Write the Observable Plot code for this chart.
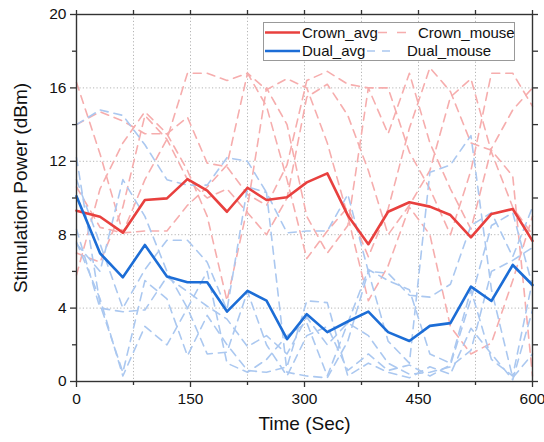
<!DOCTYPE html>
<html><head><meta charset="utf-8">
<script src="https://cdn.jsdelivr.net/npm/d3@7"></script>
<script src="https://cdn.jsdelivr.net/npm/@observablehq/plot@0.6"></script>
<style>
html,body{margin:0;padding:0;background:#fff;}
#chart{width:544px;height:442px;}
</style>
</head><body><div id="chart"></div>
<script>
const times = [0, 31, 61, 90, 119, 146, 172, 198, 225, 250, 277, 303, 330, 357, 384, 410, 438, 465, 492, 519, 546, 574, 600];

const crownAvg = [9.31, 8.98, 8.11, 9.89, 9.98, 11.03, 10.4, 9.25, 10.56, 9.89, 10.04, 10.85, 11.34, 9.05, 7.48, 9.25, 9.77, 9.53, 9.07, 7.86, 9.13, 9.40, 7.66];
const dualAvg  = [10.1, 6.99, 5.68, 7.44, 5.72, 5.41, 5.41, 3.81, 4.94, 4.41, 2.31, 3.67, 2.69, 3.27, 3.81, 2.69, 2.21, 3.03, 3.18, 5.17, 4.39, 6.35, 5.26];

const crownMouse1 = [16.3, 12.4, 8.1, 11.0, 13.2, 16.8, 16.8, 16.4, 16.8, 15.0, 11.0, 6.7, 8.2, 9.5, 6.8, 9.4, 13.8, 17.1, 15.8, 13.0, 12.6, 11.2, 0.3];
const crownMouse2 = [14.0, 14.7, 14.2, 13.5, 13.5, 14.4, 11.9, 11.7, 10.2, 9.6, 11.8, 16.4, 16.9, 16.2, 16.0, 16.0, 12.5, 10.5, 8.0, 11.5, 16.8, 16.8, 15.0];
const crownMouse3 = [10.6, 8.4, 8.1, 8.2, 8.2, 9.6, 10.6, 11.8, 16.8, 15.9, 16.5, 16.0, 13.0, 9.0, 4.4, 6.3, 9.5, 8.0, 3.0, 1.5, 2.1, 5.5, 9.0];
const crownMouse4 = [5.8, 10.5, 13.0, 14.7, 13.5, 11.5, 9.0, 4.4, 9.5, 16.0, 14.0, 9.0, 7.0, 8.5, 16.0, 13.5, 16.8, 13.0, 10.5, 8.3, 12.7, 14.8, 16.0];
const crownMouse5 = [7.0, 6.5, 9.5, 14.5, 13.2, 11.0, 10.0, 10.5, 9.2, 8.0, 10.0, 15.5, 16.2, 14.5, 11.5, 8.0, 9.6, 11.5, 15.5, 16.5, 12.5, 9.5, 8.0];

const dualMouse1 = [14.0, 14.8, 14.5, 12.9, 11.0, 10.7, 10.7, 12.2, 12.0, 10.3, 8.1, 8.2, 8.2, 10.2, 6.0, 5.9, 4.7, 4.6, 5.3, 8.5, 9.2, 6.8, 9.5];
const dualMouse2 = [12.2, 4.2, 0.5, 5.5, 4.5, 1.4, 3.6, 2.0, 0.6, 0.5, 0.8, 4.4, 4.3, 0.3, 1.0, 0.5, 0.2, 0.8, 0.4, 2.9, 1.5, 0.1, 3.9];
const dualMouse3 = [11.0, 7.5, 4.0, 6.1, 7.7, 7.7, 6.5, 3.9, 10.6, 10.3, 0.5, 0.3, 0.2, 2.2, 6.0, 2.2, 1.0, 11.4, 11.8, 13.4, 5.0, 0.2, 1.5];
const dualMouse4 = [8.3, 4.0, 3.8, 3.9, 5.7, 4.9, 4.1, 3.4, 1.9, 2.5, 1.5, 3.5, 2.0, 3.2, 2.5, 1.0, 0.4, 0.5, 0.8, 1.7, 6.0, 6.6, 7.3];
const dualMouse5 = [7.5, 6.0, 11.0, 9.0, 6.0, 4.0, 1.5, 1.6, 4.9, 2.0, 0.3, 2.5, 3.0, 0.6, 1.5, 0.6, 0.9, 0.3, 0.9, 4.5, 8.5, 9.2, 5.2];
const dualMouse6 = [7.6, 4.5, 0.3, 3.0, 2.0, 4.0, 6.0, 1.0, 0.5, 1.2, 2.5, 3.2, 0.3, 3.2, 6.1, 5.5, 5.0, 1.5, 1.0, 5.0, 1.2, 0.3, 5.5];

const xMajor = [0, 150, 300, 450, 600];
const xMinor = [75, 225, 375, 525];
const yMajor = [0, 4, 8, 12, 16, 20];
const yMinor = [2, 6, 10, 14, 18];

const RED = "#e8403e", BLUE = "#1c6dd6", LRED = "#f6adad", LBLUE = "#abc8f0";
const FONT = "'Liberation Sans', Arial, sans-serif";

function rows(id, vals) { return times.map((t, i) => ({t, v: vals[i], id})); }
const crownMice = [crownMouse1, crownMouse2, crownMouse3, crownMouse4, crownMouse5].flatMap((s, k) => rows("c" + k, s));
const dualMice = [dualMouse1, dualMouse2, dualMouse3, dualMouse4, dualMouse5, dualMouse6].flatMap((s, k) => rows("d" + k, s));
const crownA = rows("Crown_avg", crownAvg);
const dualA = rows("Dual_avg", dualAvg);

const tickStroke = "#333";
const chart = Plot.plot({
  width: 544, height: 442,
  marginLeft: 76, marginRight: 12, marginTop: 14, marginBottom: 61,
  style: {fontFamily: FONT, fontSize: "15.5px", color: "#111", background: "#fff"},
  x: {domain: [0, 600]},
  y: {domain: [0, 20]},
  marks: [
    Plot.gridX(xMajor.concat(xMinor), {stroke: "#b5b5b5", strokeOpacity: 1, strokeDasharray: "1.2,2.2"}),
    Plot.gridY(yMajor, {stroke: "#b5b5b5", strokeOpacity: 1, strokeDasharray: "1.2,2.2"}),
    Plot.line(crownMice, {x: "t", y: "v", z: "id", stroke: LRED, strokeWidth: 1.6, strokeDasharray: "8,6"}),
    Plot.line(dualMice, {x: "t", y: "v", z: "id", stroke: LBLUE, strokeWidth: 1.6, strokeDasharray: "8,6"}),
    Plot.line(crownA, {x: "t", y: "v", stroke: RED, strokeWidth: 2.6}),
    Plot.line(dualA, {x: "t", y: "v", stroke: BLUE, strokeWidth: 2.6}),
    Plot.frame({stroke: "#333", strokeWidth: 1.4}),
    Plot.axisX({ticks: xMajor, tickSize: 6, tickPadding: 5, label: null, stroke: tickStroke, strokeWidth: 1.3}),
    Plot.axisX({ticks: xMinor, tickSize: 4, text: null, label: null, stroke: tickStroke, strokeWidth: 1.3}),
    Plot.axisX({anchor: "top", ticks: xMajor.concat(xMinor), tickSize: 5, text: null, label: null, stroke: tickStroke, strokeWidth: 1.3}),
    Plot.axisY({ticks: yMajor, tickSize: 6, tickPadding: 4, label: null, stroke: tickStroke, strokeWidth: 1.3}),
    Plot.axisY({ticks: yMinor, tickSize: 4, text: null, label: null, stroke: tickStroke, strokeWidth: 1.3}),
    Plot.axisY({anchor: "right", ticks: yMajor.concat(yMinor), tickSize: 5, text: null, label: null, stroke: tickStroke, strokeWidth: 1.3}),
    Plot.text(["Time (Sec)"], {frameAnchor: "bottom", dy: 48, fontSize: 19, fill: "#111"}),
    Plot.text(["Stimulation Power (dBm)"], {frameAnchor: "left", dx: -56, dy: -10, rotate: -90, textAnchor: "middle", fontSize: 19, fill: "#111"})
  ]
});
document.getElementById("chart").appendChild(chart);

// legend
const svg = d3.select(chart);
const lg = svg.append("g").attr("font-family", FONT).attr("font-size", 15).attr("fill", "#111").attr("text-anchor", "start");
lg.append("rect").attr("x", 263.5).attr("y", 22.5).attr("width", 251).attr("height", 38)
  .attr("fill", "#fff").attr("stroke", "#999").attr("stroke-width", 1);
const legendItems = [
  {x1: 265, x2: 300, y: 32.5, stroke: RED, w: 2.6, dash: null, tx: 302, text: "Crown_avg"},
  {x1: 378, x2: 408, y: 32.5, stroke: LRED, w: 1.6, dash: "9,10", tx: 418, text: "Crown_mouse"},
  {x1: 265, x2: 300, y: 51, stroke: BLUE, w: 2.6, dash: null, tx: 302, text: "Dual_avg"},
  {x1: 367, x2: 391, y: 51, stroke: LBLUE, w: 1.6, dash: "8,7", tx: 407, text: "Dual_mouse"}
];
for (const it of legendItems) {
  const l = lg.append("line").attr("x1", it.x1).attr("x2", it.x2).attr("y1", it.y).attr("y2", it.y)
    .attr("stroke", it.stroke).attr("stroke-width", it.w);
  if (it.dash) l.attr("stroke-dasharray", it.dash);
  lg.append("text").attr("x", it.tx).attr("y", it.y).attr("dy", "0.35em").attr("text-anchor", "start").text(it.text);
}
</script>
</body></html>
